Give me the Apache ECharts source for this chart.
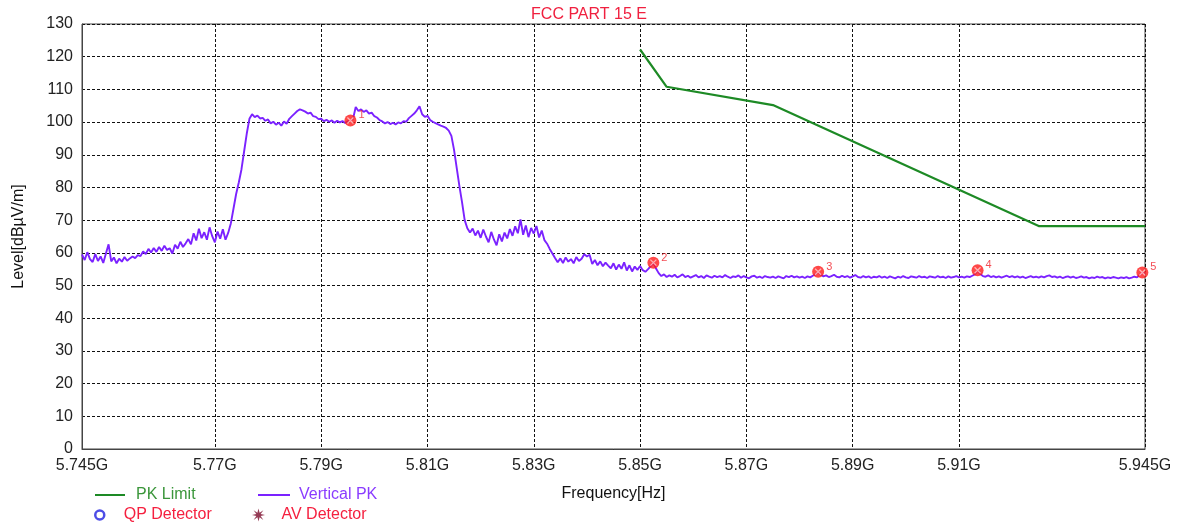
<!DOCTYPE html>
<html><head><meta charset="utf-8">
<script src="https://cdn.jsdelivr.net/npm/echarts@6/dist/echarts.min.js"></script>
<style>html,body{margin:0;padding:0;background:#fff}#c{width:1178px;height:527px}</style>
</head><body><div id="c"></div>
<script>
const FONT = 'Arial, "Liberation Sans", sans-serif';

// X axis tick positions (GHz) and their labels
const xTickValues = [5.745, 5.77, 5.79, 5.81, 5.83, 5.85, 5.87, 5.89, 5.91, 5.945];
const xTickLabels = ['5.745G', '5.77G', '5.79G', '5.81G', '5.83G', '5.85G', '5.87G', '5.89G', '5.91G', '5.945G'];

// PK limit line
const limitFreqs = [5.85, 5.855, 5.875, 5.925, 5.945];
const limitLevels = [122.2, 110.8, 105.2, 68.2, 68.2];

// Vertical PK sweep: starts at 5.745 GHz, one reading every 0.5 MHz
const traceStartGHz = 5.745;
const traceStepGHz = 0.0005;
const traceLevels = [
  59.5, 57.8, 60.2, 58.1, 57.2, 59.6, 57.5, 58.9, 56.9, 59.8, 62.6, 57.4, 58.6, 56.8, 58.2, 57.3, 58.7, 57.6, 58.3, 58.9,
  58.4, 59.3, 59.0, 60.4, 59.6, 61.2, 60.1, 61.5, 60.3, 61.8, 60.6, 62.2, 60.9, 61.4, 59.8, 62.5, 61.3, 63.4, 61.8, 62.9,
  64.2, 62.6, 66.0, 63.8, 67.4, 64.5, 66.3, 64.0, 67.8, 65.1, 63.2, 66.5, 64.3, 67.2, 64.0, 66.1, 69.0, 73.5, 78.0, 81.5,
  85.5, 91.0, 96.5, 101.0, 102.4, 101.5, 102.0, 101.1, 101.3, 100.4, 100.8, 99.6, 100.1, 99.2, 99.8, 98.9, 100.2, 99.5, 101.0, 101.8,
  102.6, 103.4, 103.9, 103.6, 103.2, 102.6, 102.9, 101.8, 101.6, 100.9, 101.0, 100.3, 100.7, 100.1, 100.5, 99.8, 100.4, 99.9, 100.3, 99.7,
  100.2, 100.5, 101.0, 104.6, 103.4, 103.9, 103.1, 103.6, 102.6, 102.9, 101.8, 101.4, 100.6, 100.2, 99.6, 100.0, 99.4, 99.8, 99.3, 99.9,
  99.6, 100.3, 100.1, 101.2, 101.9, 102.6, 103.6, 104.8, 102.4, 101.6, 101.9, 100.6, 100.1, 99.7, 99.3, 98.9, 98.6, 98.2, 97.4, 95.8,
  91.5, 86.0, 80.5, 75.5, 70.0, 67.5, 66.2, 67.4, 65.3, 66.8, 64.6, 67.1, 65.0, 63.2, 66.4, 64.1, 62.3, 65.7, 63.5, 66.2,
  64.4, 67.3, 65.2, 68.1, 66.0, 70.2, 65.5, 68.4, 64.8, 67.6, 65.9, 68.2, 64.7, 66.8, 63.9, 62.8, 61.2, 59.8, 58.4, 57.1,
  58.3, 56.9, 58.6, 57.3, 58.1, 56.8, 58.7, 57.5, 58.2, 59.6, 58.9, 59.4, 56.6, 57.8, 56.2, 57.4, 55.9, 57.0, 56.1, 55.3,
  56.8, 54.9, 56.4, 55.1, 57.1, 54.6, 56.2, 54.3, 55.8, 54.8, 56.0, 54.7, 54.2, 55.0, 55.9, 57.0, 55.2, 53.8, 52.9, 53.4,
  52.6, 53.1, 52.7, 53.3, 52.5, 52.9, 53.4, 52.6, 53.0, 52.4, 52.8, 53.2, 52.5, 52.9, 52.3, 53.1, 52.7, 52.4, 53.0, 52.6,
  52.9, 52.5, 53.2, 52.7, 52.3, 52.8, 52.6, 53.1, 52.4, 52.9, 52.5, 52.2, 52.8, 53.0, 52.4, 52.7, 52.3, 52.9, 52.6, 52.4,
  52.7, 52.3, 52.8, 52.5, 52.2, 52.9, 52.6, 53.0, 52.5, 52.8, 52.4, 52.7, 52.3, 52.8, 52.5, 53.0, 53.4, 54.2, 53.3, 52.8,
  53.1, 52.6, 52.9, 53.3, 52.7, 52.5, 53.0, 52.6, 52.9, 52.4, 52.8, 53.2, 52.6, 52.4, 52.9, 52.5, 52.8, 52.3, 52.7, 52.5,
  52.9, 52.4, 52.7, 52.3, 52.8, 52.5, 52.2, 52.7, 52.4, 52.9, 52.5, 52.3, 52.8, 52.6, 52.4, 52.9, 52.5, 52.7, 52.3, 52.8,
  52.6, 52.4, 52.9, 52.5, 52.7, 52.3, 52.8, 52.4, 52.6, 52.9, 52.5, 52.7, 52.4, 52.8, 52.6, 53.0, 53.4, 54.7, 53.5, 52.9,
  52.7, 53.1, 52.6, 52.9, 52.5, 52.8, 52.4, 52.7, 53.0, 52.6, 52.9, 52.5, 52.8, 52.4, 52.7, 52.3, 52.6, 52.9, 52.5, 52.7,
  52.4, 52.8, 52.5, 52.9, 53.1, 52.6, 52.8, 52.4, 52.7, 52.3, 52.6, 52.8, 52.4, 52.7, 52.3, 52.5, 52.8, 52.4, 52.6, 52.2,
  52.5, 52.3, 52.7, 52.4, 52.6, 52.2, 52.5, 52.3, 52.6, 52.4, 52.2, 52.5, 52.3, 52.6, 52.2, 52.4, 52.7, 52.5, 53.2, 54.0,
  53.6
];

// Marked peaks
const markerIds = ['1', '2', '3', '4', '5'];
const markerFreqs = [5.7955, 5.8525, 5.8835, 5.9135, 5.9445];
const markerLevels = [100.5, 57.0, 54.2, 54.7, 54.0];

const traceData = traceLevels.map((v, i) => [+(traceStartGHz + i * traceStepGHz).toFixed(4), v]);
const limitData = limitFreqs.map((f, i) => [f, limitLevels[i]]);
const markerData = markerFreqs.map((f, i) => ({ value: [f, markerLevels[i]], id: markerIds[i] }));

const STAR = 'path://M12,0 L14,8 L21,3 L16,10 L24,12 L16,14 L21,21 L14,16 L12,24 L10,16 L3,21 L8,14 L0,12 L8,10 L3,3 L10,8 Z';

const chart = echarts.init(document.getElementById('c'), null, { renderer: 'canvas' });
chart.setOption({
  animation: false,
  backgroundColor: '#fff',
  textStyle: { fontFamily: FONT },
  title: {
    text: 'FCC PART 15 E', left: 'center', top: 2,
    textStyle: { color: '#f0203f', fontSize: 16, fontWeight: 'normal', fontFamily: FONT }
  },
  grid: { left: 82, right: 33, top: 24, bottom: 78, show: true, borderColor: '#444', borderWidth: 1, backgroundColor: 'transparent' },
  legend: [
    { left: 95, top: 487, padding: 0, itemWidth: 30, itemHeight: 2, symbolKeepAspect: false, selectedMode: false,
      data: [{ name: 'PK Limit', icon: 'rect', itemStyle: { color: '#1d8a25' }, textStyle: { color: '#3b963b' } }],
      textStyle: { fontSize: 16, fontFamily: FONT, padding: [0, 0, 0, 6] } },
    { left: 258, top: 487, padding: 0, itemWidth: 32, itemHeight: 2, symbolKeepAspect: false, selectedMode: false,
      data: [{ name: 'Vertical PK', icon: 'rect', itemStyle: { color: '#7b22ff' }, textStyle: { color: '#8a3cff' } }],
      textStyle: { fontSize: 16, fontFamily: FONT, padding: [0, 0, 0, 4] } },
    { left: 94, top: 507, padding: 0, itemWidth: 38, itemHeight: 9, selectedMode: false,
      data: [{ name: 'QP Detector', icon: 'circle', itemStyle: { color: '#fff', borderColor: '#2020e0', borderWidth: 2.5 }, textStyle: { color: '#f5203f' } }],
      textStyle: { fontSize: 16, fontFamily: FONT } },
    { left: 252, top: 507, padding: 0, itemWidth: 36, itemHeight: 13, selectedMode: false,
      data: [{ name: 'AV Detector', icon: STAR, itemStyle: { color: '#7a0a2a' }, textStyle: { color: '#f5203f' } }],
      textStyle: { fontSize: 16, fontFamily: FONT } }
  ],
  xAxis: {
    type: 'value', min: 5.745, max: 5.945,
    name: 'Frequency[Hz]', nameLocation: 'middle', nameGap: 37,
    nameTextStyle: { color: '#111', fontSize: 16, fontFamily: FONT },
    axisLine: { show: true, lineStyle: { color: '#444', width: 1 } },
    axisTick: { show: false, customValues: xTickValues },
    axisLabel: {
      customValues: xTickValues, color: '#222', fontSize: 16, fontFamily: FONT, margin: 9,
      formatter: (v) => { const k = xTickValues.findIndex(t => Math.abs(t - v) < 1e-6); return k >= 0 ? xTickLabels[k] : ''; }
    },
    splitLine: { show: true, lineStyle: { color: '#111', type: [3, 2], width: 1 } }
  },
  yAxis: {
    type: 'value', min: 0, max: 130, interval: 10,
    name: 'Level[dBµV/m]', nameLocation: 'middle', nameGap: 55, nameRotate: 90,
    nameTextStyle: { color: '#111', fontSize: 16, fontFamily: FONT },
    axisLine: { show: true, lineStyle: { color: '#444', width: 1 } },
    axisTick: { show: false },
    axisLabel: { color: '#222', fontSize: 16, fontFamily: FONT, margin: 9 },
    splitLine: { show: true, lineStyle: { color: '#111', type: [3, 2], width: 1 } }
  },
  series: [
    { name: 'Vertical PK', type: 'line', data: traceData, symbol: 'none', z: 3,
      lineStyle: { color: '#7b22ff', width: 1.9 }, itemStyle: { color: '#7b22ff' } },
    { name: 'PK Limit', type: 'line', data: limitData, symbol: 'none', z: 4,
      lineStyle: { color: '#1d8a25', width: 2.2 }, itemStyle: { color: '#1d8a25' } },
    { name: 'QP Detector', type: 'scatter', data: [], itemStyle: { color: '#fff', borderColor: '#2020e0' } },
    { name: 'AV Detector', type: 'scatter', data: [], symbol: STAR, itemStyle: { color: '#7a0a2a' } },
    { name: 'markers', type: 'scatter', data: markerData, symbol: 'circle', symbolSize: 12, z: 5,
      itemStyle: { color: '#ff1a1a' },
      label: { show: true, position: 'right', distance: 1, offset: [1, -5], color: '#f0202a', fontSize: 11, fontFamily: FONT,
        formatter: (p) => p.data.id } },
    { name: 'markerX', type: 'scatter', data: markerData, symbol: 'path://M0,0 L10,10 M10,0 L0,10', symbolSize: 6, z: 6,
      itemStyle: { color: 'rgba(0,0,0,0)', borderColor: '#ffd0d0', borderWidth: 1.3 } }
  ]
});
</script>
</body></html>
